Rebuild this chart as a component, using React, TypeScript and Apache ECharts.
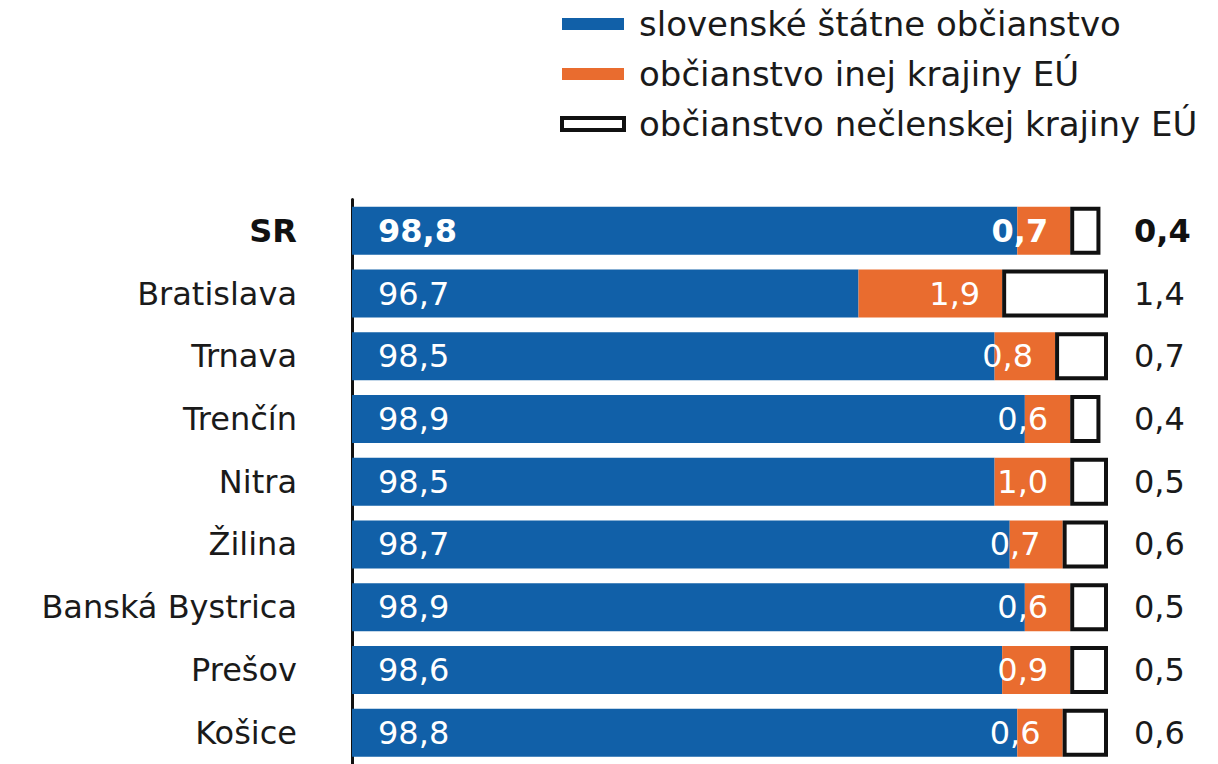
import React, { useEffect, useRef } from "react";
import * as echarts from "echarts";

const categories = ["SR", "Bratislava", "Trnava", "Trenčín", "Nitra", "Žilina", "Banská Bystrica", "Prešov", "Košice"];
const slovak = [98.8, 96.7, 98.5, 98.9, 98.5, 98.7, 98.9, 98.6, 98.8];
const otherEu = [0.7, 1.9, 0.8, 0.6, 1.0, 0.7, 0.6, 0.9, 0.6];
const nonEu = [0.4, 1.4, 0.7, 0.4, 0.5, 0.6, 0.5, 0.5, 0.6];
const seriesNames = ["slovenské štátne občianstvo", "občianstvo inej krajiny EÚ", "občianstvo nečlenskej krajiny EÚ"];

const BLUE = "#1160a8";
const ORANGE = "#e96c2f";
const FONT = "DejaVu Sans";
const FS = 32;

const fmt = (v: number) => v.toFixed(1).replace(".", ",");

export default function App() {
  const ref = useRef<HTMLDivElement>(null);
  useEffect(() => {
    if (!ref.current) return;
    const chart = echarts.init(ref.current, undefined, { renderer: "svg" });
    const mk = (arr: number[]) =>
      arr.map((v, i) => (i === 0 ? { value: v, label: { fontWeight: "bold" } } : v));
    const axisLabelCommon = {
      fontSize: FS,
      fontFamily: FONT,
      color: "#1a1a1a",
      formatter: (v: string, i: number) => (i === 0 ? `{b|${v}}` : v),
      rich: { b: { fontWeight: "bold", fontSize: FS, fontFamily: FONT, color: "#111" } },
    };
    chart.setOption({
      animation: false,
      textStyle: { fontFamily: FONT },
      legend: {
        orient: "vertical",
        left: 555,
        top: 2,
        icon: "rect",
        itemWidth: 62,
        itemHeight: 12,
        itemGap: 16,
        selectedMode: false,
        textStyle: { fontFamily: FONT, fontSize: 34, color: "#1a1a1a", padding: [0, 0, 0, 10] },
        data: [
          { name: seriesNames[0] },
          { name: seriesNames[1] },
          { name: seriesNames[2], itemStyle: { color: "#fff", borderColor: "#111", borderWidth: 4 } },
        ],
      },
      grid: { left: 352, right: 110, top: 199.5, bottom: -5, containLabel: false },
      xAxis: { type: "value", min: 90, max: 100, show: false },
      yAxis: [
        {
          type: "category",
          data: categories,
          inverse: true,
          axisLine: { show: true, lineStyle: { color: "#111", width: 3 } },
          axisTick: { show: false },
          axisLabel: { ...axisLabelCommon, margin: 55 },
        },
        {
          type: "category",
          data: nonEu.map(fmt),
          inverse: true,
          position: "right",
          axisLine: { show: false },
          axisTick: { show: false },
          axisLabel: { ...axisLabelCommon, margin: 26 },
        },
      ],
      series: [
        {
          name: seriesNames[0],
          type: "bar",
          stack: "t",
          barWidth: 48,
          itemStyle: { color: BLUE },
          label: {
            show: true,
            position: "insideLeft",
            distance: 26,
            color: "#fff",
            fontSize: FS,
            fontFamily: FONT,
            formatter: (p: any) => fmt(p.value),
          },
          data: mk(slovak),
        },
        {
          name: seriesNames[1],
          type: "bar",
          stack: "t",
          barWidth: 48,
          itemStyle: { color: ORANGE },
          label: {
            show: true,
            position: "insideRight",
            distance: 22,
            color: "#fff",
            fontSize: FS,
            fontFamily: FONT,
            formatter: (p: any) => fmt(p.value),
          },
          data: mk(otherEu),
        },
        {
          name: seriesNames[2],
          type: "bar",
          stack: "t",
          barWidth: 48,
          itemStyle: { color: "#fff", borderColor: "#111", borderWidth: 4 },
          label: { show: false },
          data: nonEu,
        },
      ],
    });
    return () => chart.dispose();
  }, []);
  return (
    <div style={{ position: "fixed", left: 0, top: 0, width: 1218, height: 764, overflow: "hidden", background: "#fff" }}>
      <div ref={ref} style={{ width: 1218, height: 764 }} />
    </div>
  );
}
